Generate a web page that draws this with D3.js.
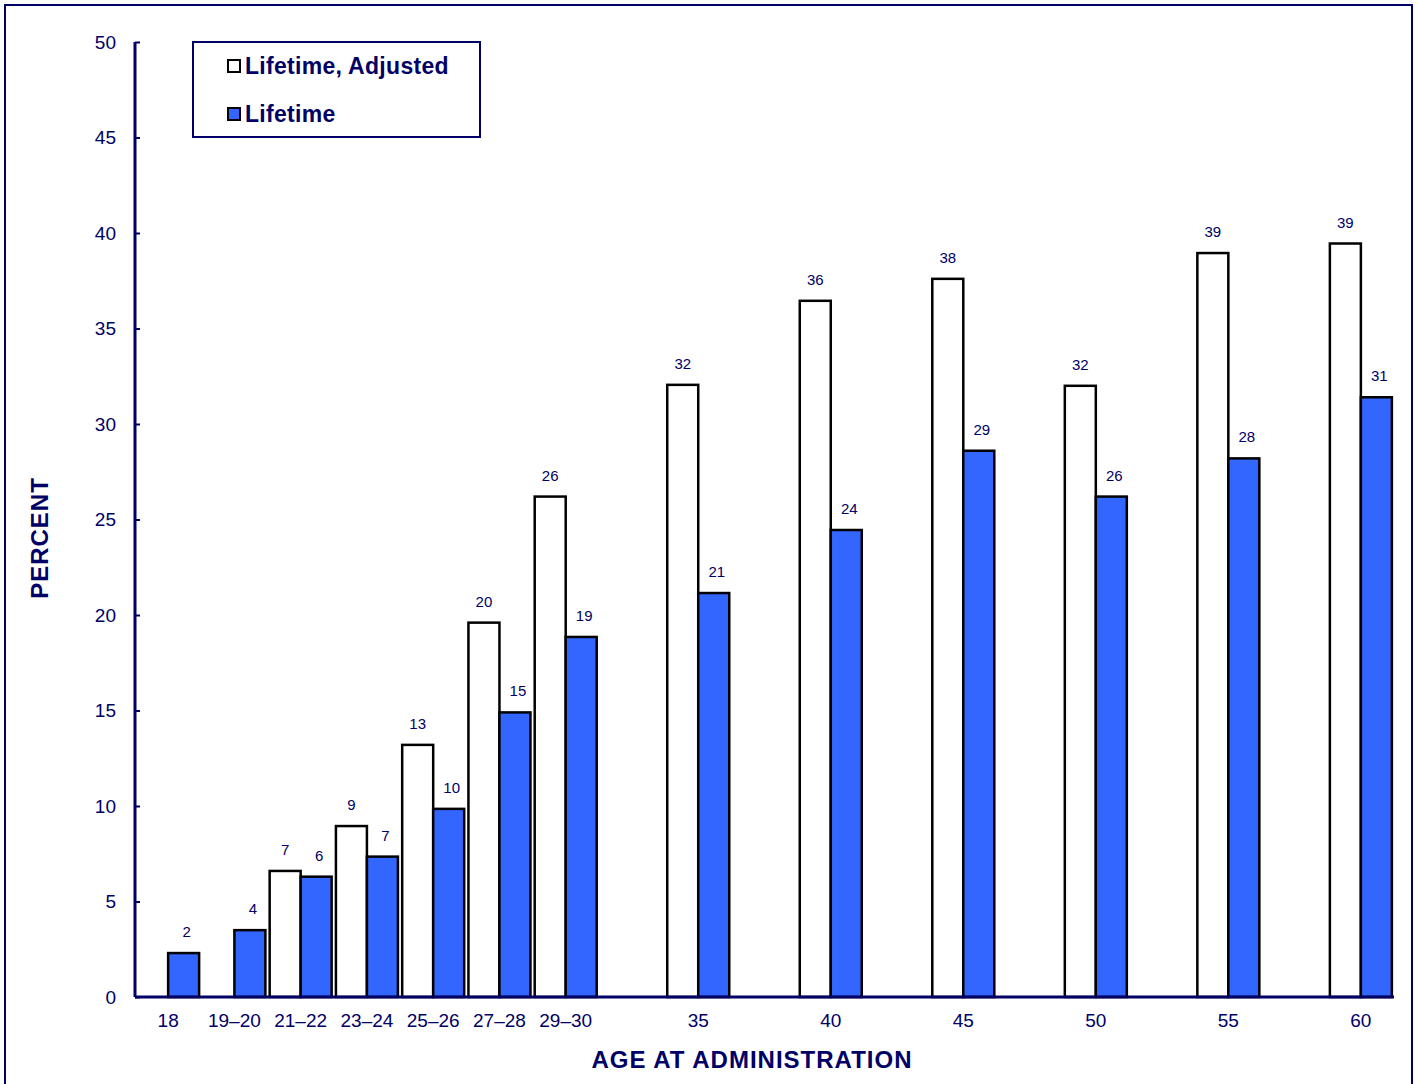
<!DOCTYPE html>
<html><head><meta charset="utf-8">
<script src="https://cdn.jsdelivr.net/npm/d3@7"></script>
<style>body{margin:0;background:#fff}svg{display:block}text{font-family:Arial,"Liberation Sans",sans-serif}</style>
</head><body><svg id="c" width="1419" height="1084"></svg>
<script>
const categories = ["18","19–20","21–22","23–24","25–26","27–28","29–30","35","40","45","50","55","60"];
const slots = [0,1,2,3,4,5,6,8,10,12,14,16,18];
const adjusted = [null,null,6.6,8.95,13.2,19.6,26.2,32.05,36.45,37.6,32.0,38.95,39.45];
const adjustedLabels = ["","","7","9","13","20","26","32","36","38","32","39","39"];
const lifetime = [2.3,3.5,6.3,7.35,9.85,14.9,18.85,21.15,24.45,28.6,26.2,28.2,31.4];
const lifetimeLabels = ["2","4","6","7","10","15","19","21","24","29","26","28","31"];
const yTicks = [0,5,10,15,20,25,30,35,40,45,50];
const seriesNames = ["Lifetime, Adjusted","Lifetime"];

const NAVY = "#000066", BLUE = "#3366FF";
const svg = d3.select("#c");
svg.append("rect").attr("x",5).attr("y",5).attr("width",1407).attr("height",1100)
  .attr("fill","none").attr("stroke",NAVY).attr("stroke-width",2);

const x0 = 135, x1 = 1394, yTop = 42, yBot = 997;
const xb = d3.scaleBand().domain(d3.range(19)).range([x0, x1]).paddingInner(0).paddingOuter(0);
const y = d3.scaleLinear().domain([0,50]).range([yBot, yTop]);
const bw = 31;
const cx = i => xb(slots[i]) + xb.bandwidth()/2;

// y axis
const ya = svg.append("g").attr("transform",`translate(${x0},0)`)
  .call(d3.axisLeft(y).tickValues(yTicks).tickSize(-5).tickPadding(19));
ya.select(".domain").attr("stroke",NAVY).attr("stroke-width",3).attr("d",`M0,${yTop}V${yBot}`);
ya.selectAll(".tick line").attr("stroke",NAVY).attr("stroke-width",2);
ya.selectAll(".tick text").attr("fill",NAVY).attr("font-size",19).attr("font-family","Arial");

// bars
const g = svg.append("g");
categories.forEach((c,i)=>{
  if (adjusted[i] != null) {
    g.append("rect").attr("x",cx(i)-bw).attr("y",y(adjusted[i])).attr("width",bw)
      .attr("height",yBot-y(adjusted[i])).attr("fill","#fff").attr("stroke","#000").attr("stroke-width",2.5);
    g.append("text").attr("x",cx(i)-bw/2).attr("y",y(adjusted[i])-16).attr("text-anchor","middle")
      .attr("font-size",15).attr("fill",NAVY).text(adjustedLabels[i]);
  }
  const bx = cx(i);
  g.append("rect").attr("x",bx).attr("y",y(lifetime[i])).attr("width",bw)
    .attr("height",yBot-y(lifetime[i])).attr("fill",BLUE).attr("stroke","#000").attr("stroke-width",2.5);
  g.append("text").attr("x",bx+bw/2+3).attr("y",y(lifetime[i])-16).attr("text-anchor","middle")
    .attr("font-size",15).attr("fill",NAVY).text(lifetimeLabels[i]);
});

// x axis
const xa = svg.append("g").attr("transform",`translate(0,${yBot})`)
  .call(d3.axisBottom(xb).tickValues(slots).tickFormat((d)=>categories[slots.indexOf(d)]).tickSize(0).tickPadding(17));
xa.select(".domain").attr("stroke",NAVY).attr("stroke-width",3).attr("d",`M${x0},0H${x1}`);
xa.selectAll(".tick text").attr("fill",NAVY).attr("font-size",19).attr("font-family","Arial");

// axis titles
svg.append("text").attr("x",752).attr("y",1068).attr("text-anchor","middle").attr("font-weight","bold")
  .attr("font-size",24).attr("letter-spacing",1).attr("fill",NAVY).text("AGE AT ADMINISTRATION");
svg.append("text").attr("transform","translate(48,538) rotate(-90)").attr("text-anchor","middle").attr("font-weight","bold")
  .attr("font-size",24).attr("letter-spacing",1).attr("fill",NAVY).text("PERCENT");

// legend
const lg = svg.append("g");
lg.append("rect").attr("x",193).attr("y",42).attr("width",287).attr("height",95)
  .attr("fill","#fff").attr("stroke",NAVY).attr("stroke-width",2);
const legFill = ["#fff", BLUE];
seriesNames.forEach((n,i)=>{
  lg.append("rect").attr("x",228).attr("y",60+i*48).attr("width",12).attr("height",12)
    .attr("fill",legFill[i]).attr("stroke","#000").attr("stroke-width",2);
  lg.append("text").attr("x",245).attr("y",74+i*48).attr("font-size",23).attr("letter-spacing",0.3).attr("font-weight","bold")
    .attr("fill",NAVY).text(n);
});
</script></body></html>
